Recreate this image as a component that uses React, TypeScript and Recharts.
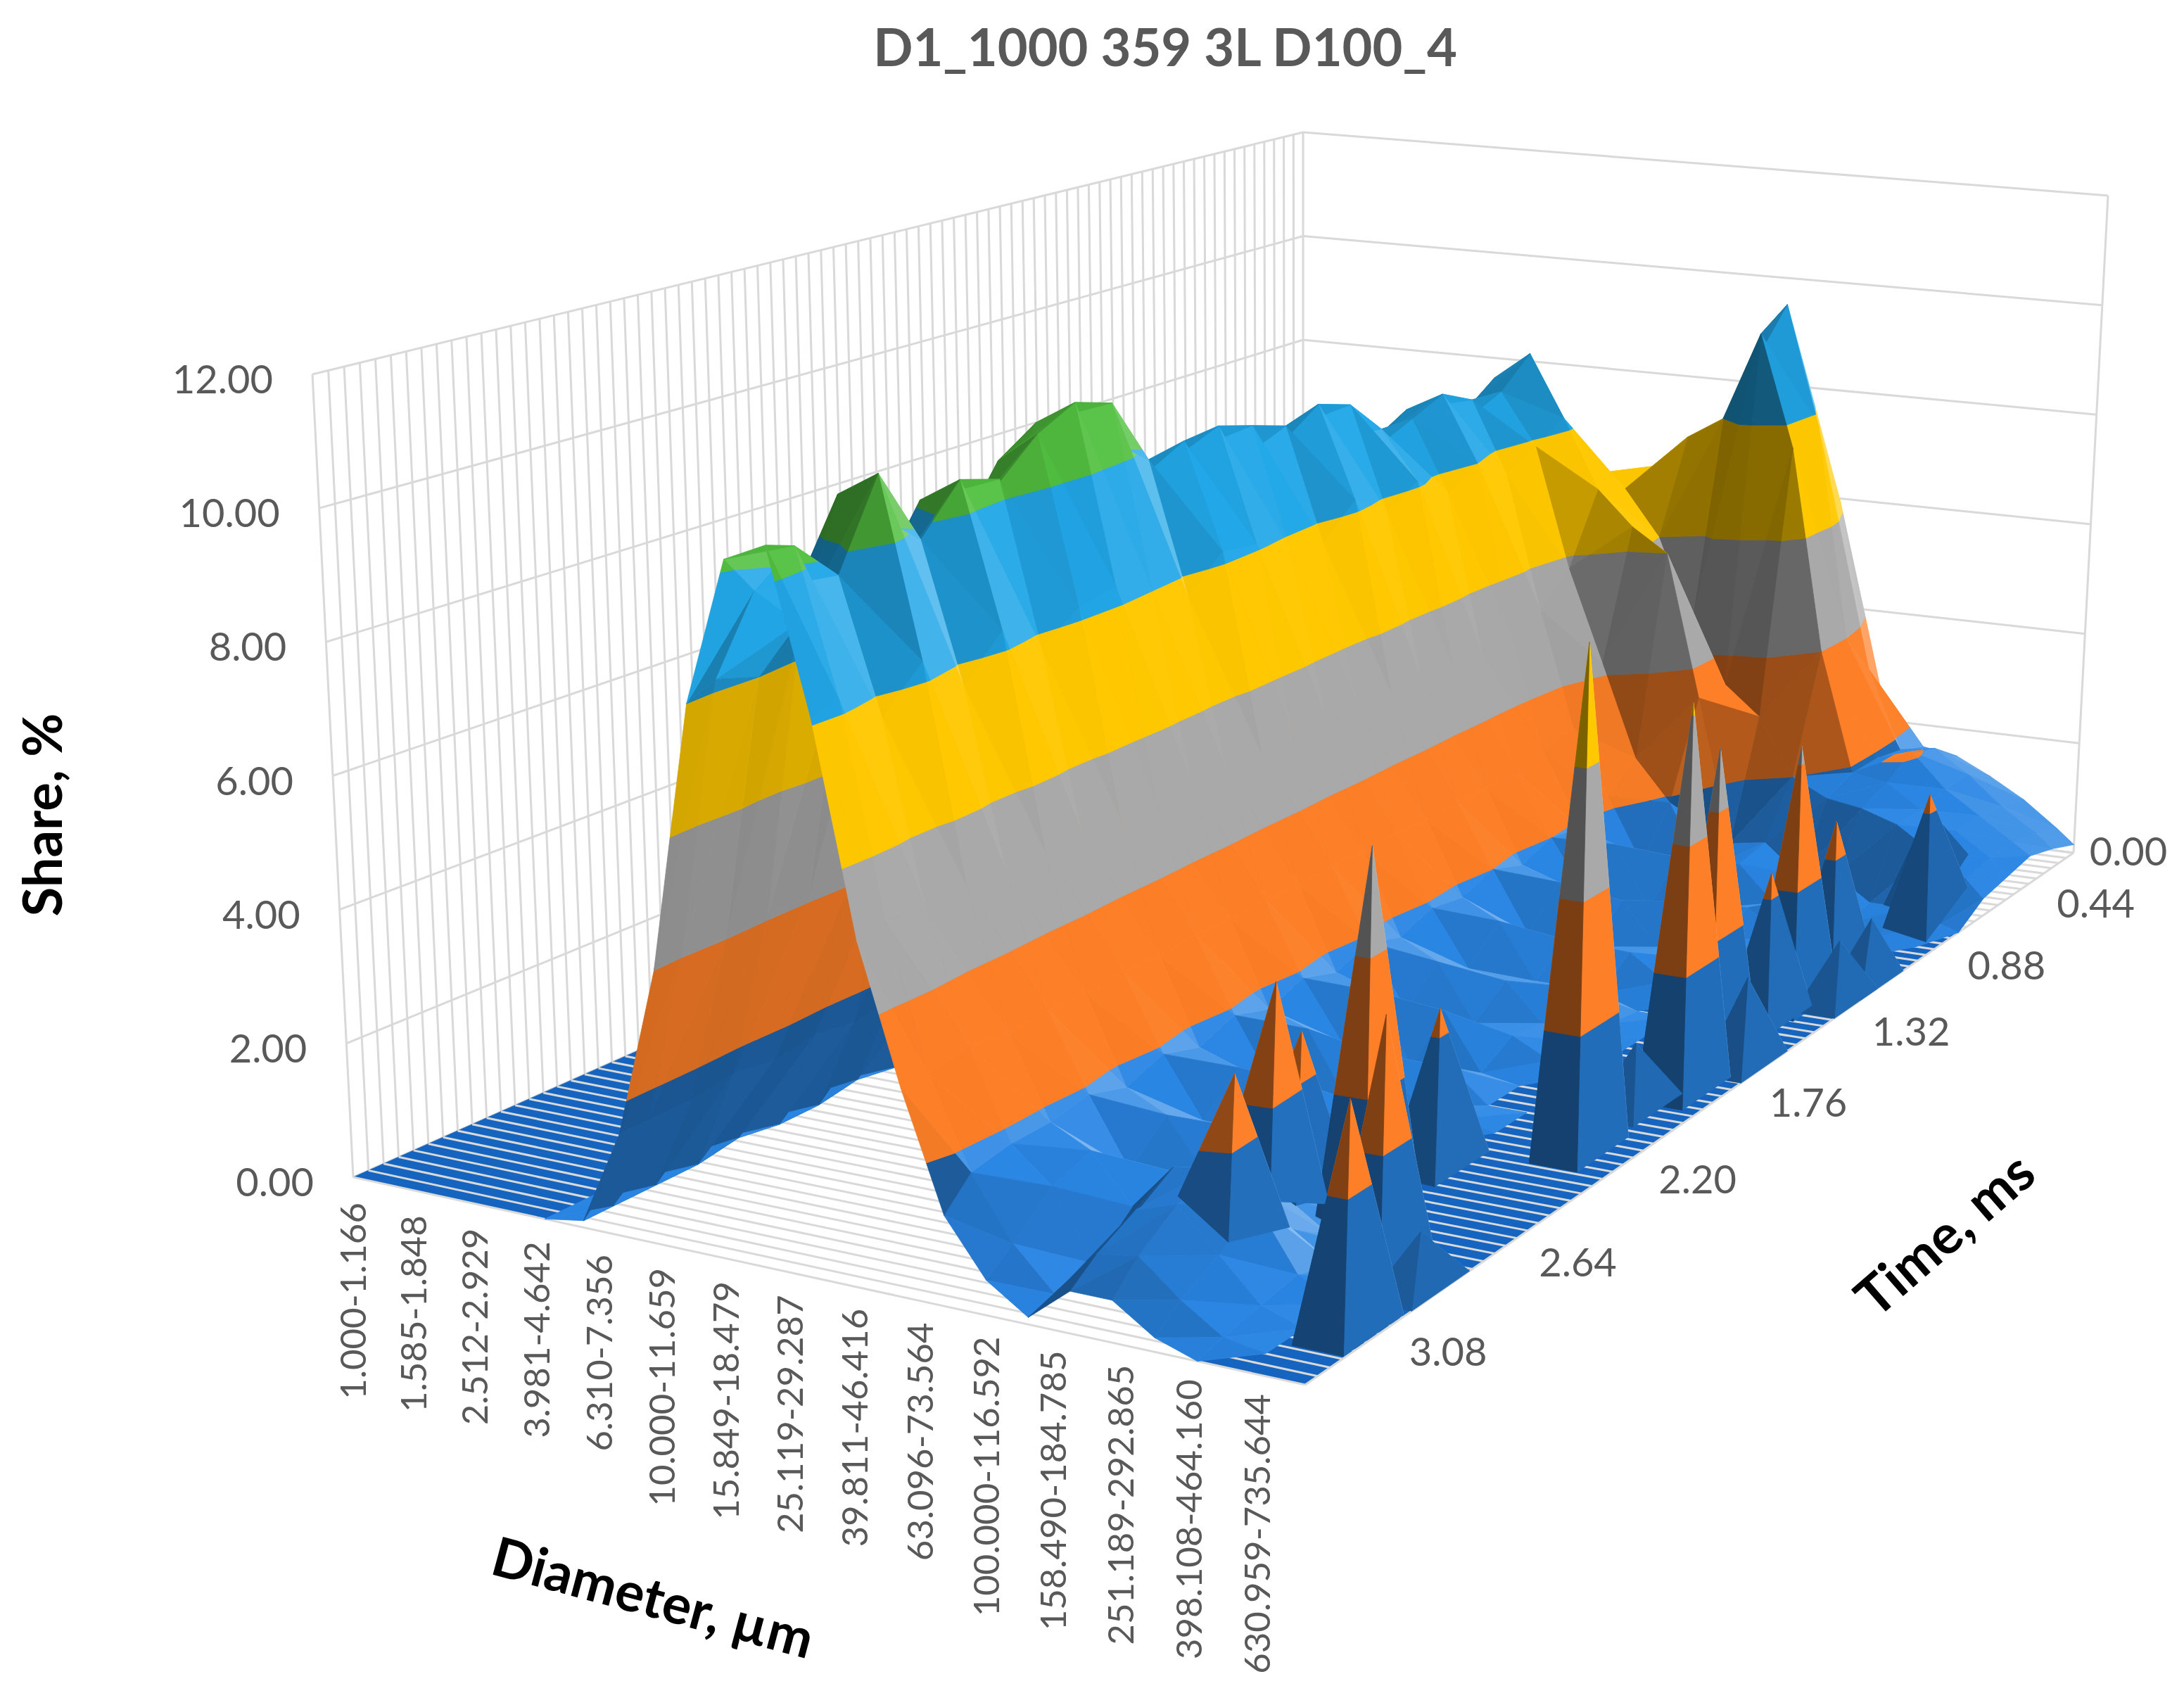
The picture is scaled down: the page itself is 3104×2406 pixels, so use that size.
import { ScatterChart, Scatter, XAxis, YAxis } from "recharts"

const WIDTH = 3104
const HEIGHT = 2406

const title = "D1_1000 359 3L D100_4"
const diameterLabels = [
  "1.000-1.166", "1.585-1.848", "2.512-2.929", "3.981-4.642", "6.310-7.356", "10.000-11.659",
  "15.849-18.479", "25.119-29.287", "39.811-46.416", "63.096-73.564", "100.000-116.592",
  "158.490-184.785", "251.189-292.865", "398.108-464.160", "630.959-735.644",
]
const diameterLabelCols = [0, 3.2, 6.4, 9.6, 12.8, 16, 19.2, 22.4, 25.6, 28.8, 32, 35.2, 38.4, 41.6, 44.8]
const timeLabels = ["0.00", "0.44", "0.88", "1.32", "1.76", "2.20", "2.64", "3.08"]
const shareTicks = [0, 2, 4, 6, 8, 10, 12]

// surface values. rows run from the front of the box to the back
const gridCols = [0, 10, 12, 14, 16, 18, 20, 22, 24, 26, 28, 30, 32, 34, 36, 38, 40, 42, 44, 46, 47]
const gridTimes = [
  3.2, 3.12, 3.0, 2.88, 2.76, 2.64, 2.52, 2.4, 2.28, 2.16, 2.04, 1.92, 1.8, 1.68,
  1.56, 1.44, 1.32, 1.2, 1.08, 0.96, 0.84, 0.72, 0.6, 0.48, 0.36, 0.24, 0.12, 0,
]
const shareRows = [
  [0, 0, 0.1, 1.5, 4.0, 8.0, 10.2, 10.5, 8.1, 5.0, 3.0, 1.3, 0.5, 0.1, 0.6, 0.6, 0.2, 0, 0, 0, 0],
  [0, 0, 0.1, 1.5, 4.1, 8.2, 9.6, 10.35, 8.2, 5.1, 3.0, 1.7, 0.8, 0.2, 0.9, 1.0, 0.5, 0.1, 0, 0, 0],
  [0, 0, 0.1, 1.5, 4.0, 8.0, 8.9, 9.7, 7.7, 5.0, 3.1, 1.8, 1.3, 0.3, 1.2, 1.4, 0.8, 0.2, 0, 0, 0],
  [0, 0, 0.1, 1.6, 4.1, 8.5, 10.6, 11.0, 8.3, 5.05, 3.0, 1.8, 1.5, 0.8, 1.5, 1.6, 1.2, 0.3, 0, 0, 0],
  [0, 0, 0.2, 1.5, 4.1, 7.9, 8.9, 9.8, 7.7, 5.0, 3.05, 1.9, 0.9, 1.0, 1.1, 1.0, 0.5, 0.1, 0, 0, 0],
  [0, 0, 0.1, 1.6, 4.0, 8.3, 10.1, 10.5, 8.3, 5.05, 3.0, 1.7, 1.4, 0.6, 0.8, 0.5, 0.1, 0, 0, 0, 0],
  [0, 0, 0.1, 1.5, 4.1, 8.0, 9.4, 10.3, 7.8, 5.0, 3.05, 1.9, 1.0, 1.0, 0.3, 0.2, 0, 0, 0, 0, 0],
  [0, 0, 0.2, 1.6, 4.1, 8.4, 10.3, 10.8, 8.2, 5.05, 3.0, 1.7, 1.5, 0.5, 0.6, 0.1, 0, 0, 0, 0, 0],
  [0, 0, 0.1, 1.6, 4.2, 8.6, 10.7, 11.1, 8.3, 5.0, 3.05, 1.9, 0.9, 1.0, 0.2, 0, 0, 0, 0, 0, 0],
  [0, 0, 0.1, 1.5, 4.1, 8.5, 10.5, 10.9, 8.0, 5.05, 3.0, 1.7, 1.5, 0.5, 0.4, 0, 0, 0, 0, 0, 0],
  [0, 0, 0.1, 1.6, 4.0, 7.9, 9.0, 9.8, 7.7, 5.0, 3.05, 1.9, 1.0, 0.9, 0.2, 0.1, 0, 0, 0, 0, 0],
  [0, 0, 0.2, 1.5, 4.2, 8.1, 9.2, 9.9, 8.2, 5.05, 3.0, 1.7, 1.5, 0.4, 0.5, 0, 0, 0, 0, 0, 0],
  [0, 0, 0.1, 1.6, 4.1, 8.2, 9.4, 9.95, 8.1, 5.0, 3.05, 1.9, 0.9, 1.0, 0.1, 0, 0, 0, 0, 0, 0],
  [0, 0, 0.1, 1.5, 4.0, 8.0, 8.8, 9.76, 7.8, 5.05, 3.0, 1.7, 1.4, 0.5, 0.4, 0.1, 0, 0, 0, 0, 0],
  [0, 0, 0.1, 1.6, 4.2, 7.9, 8.6, 9.56, 7.7, 5.0, 3.05, 1.9, 1.0, 0.9, 0.3, 0.1, 0, 0, 0, 0, 0],
  [0, 0, 0.2, 1.5, 4.1, 7.9, 9.2, 9.73, 8.2, 5.05, 3.0, 1.8, 1.5, 0.6, 0.6, 0.1, 0, 0, 0, 0, 0],
  [0, 0, 0.1, 1.6, 4.0, 8.0, 8.8, 9.53, 7.8, 5.0, 3.05, 2.0, 1.0, 1.0, 0.2, 0, 0, 0, 0, 0, 0],
  [0, 0, 0.1, 1.4, 3.9, 7.7, 8.1, 8.92, 8.1, 5.05, 3.0, 1.8, 1.6, 0.6, 0.6, 0.2, 0, 0, 0, 0, 0],
  [0, 0, 0.1, 1.5, 3.8, 7.6, 8.5, 8.9, 7.7, 5.0, 3.05, 2.0, 1.1, 1.1, 0.4, 0.3, 0.1, 0, 0, 0, 0],
  [0, 0, 0.1, 1.4, 4.0, 7.7, 8.8, 9.14, 8.0, 5.1, 3.1, 1.9, 1.7, 0.7, 0.9, 0.3, 0.2, 0.1, 0, 0, 0],
  [0, 0, 0.1, 1.3, 3.7, 7.6, 8.0, 8.85, 7.6, 5.3, 3.3, 2.2, 1.1, 1.3, 0.5, 0.6, 0.2, 0, 0, 0, 0],
  [0, 0, 0, 1.2, 3.5, 7.4, 8.4, 8.8, 7.9, 5.8, 4.2, 2.6, 1.9, 0.8, 1.0, 0.4, 0.6, 0.2, 0.1, 0, 0],
  [0, 0, 0, 1.1, 3.4, 7.4, 8.8, 9.3, 8.2, 7.0, 6.4, 6.0, 3.5, 1.0, 1.1, 0.6, 0.7, 0.3, 0.3, 0.1, 0],
  [0, 0, 0, 0.9, 3.0, 5.5, 7.5, 7.3, 7.0, 6.8, 6.0, 4.5, 3.5, 3.0, 2.0, 1.7, 1.6, 1.4, 1.0, 0.6, 0.3],
  [0, 0, 0, 0.7, 2.4, 4.0, 5.0, 6.0, 6.4, 7.0, 7.6, 8.0, 9.6, 7.6, 4.0, 1.9, 1.8, 1.4, 1.1, 0.7, 0.4],
  [0, 0, 0, 0.6, 1.8, 3.0, 4.0, 4.2, 4.5, 5.0, 5.5, 7.4, 9.95, 7.8, 4.0, 1.9, 2.1, 1.5, 1.1, 0.7, 0.5],
  [0, 0, 0, 0.3, 0.9, 1.5, 2.2, 2.5, 2.8, 3.1, 3.5, 4.8, 7.5, 6.2, 3.2, 1.8, 1.9, 1.5, 1.0, 0.6, 0.35],
  [0, 0, 0, 0.2, 0.5, 0.7, 0.8, 0.9, 1.0, 1.2, 1.5, 2.0, 3.5, 3.6, 1.8, 1.6, 1.5, 1.2, 0.85, 0.4, 0.15],
]

// the narrow spikes on the right of the ridge
const spikeTimes = [2.87, 2.64, 2.54, 2.52, 2.76, 2.97, 2.23, 2.05, 1.68, 1.48, 1.14, 1.24, 0.95, 0.59, 1.5, 1.09, 0.97, 0.5, 1.8, 2.75]
const spikeCols = [38.8, 37.4, 37.2, 40.3, 44.4, 45.7, 39.7, 44.4, 45, 44, 44.2, 44, 44, 45, 46, 46, 46.3, 44, 44, 46]
const spikeShares = [3.0, 3.7, 2.7, 5.6, 3.9, 3.3, 2.4, 7.9, 6.2, 5.0, 4.3, 2.4, 2.6, 2.3, 1.4, 1.0, 1.1, 1.8, 1.0, 0.8]

const bandColors = ["#2a86e4", "#fd7f27", "#a9a9a9", "#ffc800", "#22a7e8", "#52c040"]
const LAST_COL = 47
const MAX_TIME = 3.2
const FONT = "Lato, 'Open Sans', sans-serif"

// box corners in the picture: floor and the 12.00 level
const floorBox = [[502, 1673], [1855, 1968], [2947, 1212], [1852, 1073]]
const topBox = [[444, 532], [1864, 744], [2996, 278], [1852, 188]]
const boxDepth = [1 / 1141, 1 / 1224, 1 / 934, 1 / 885]

type V3 = { c: number; t: number; z: number }

function depthAt(u: number, v: number) {
  return (1 - u) * (1 - v) * boxDepth[0] + u * (1 - v) * boxDepth[1] + u * v * boxDepth[2] + (1 - u) * v * boxDepth[3]
}

function onBox(box: number[][], u: number, v: number) {
  const w = [(1 - u) * (1 - v) * boxDepth[0], u * (1 - v) * boxDepth[1], u * v * boxDepth[2], (1 - u) * v * boxDepth[3]]
  const sum = w[0] + w[1] + w[2] + w[3]
  return [
    (w[0] * box[0][0] + w[1] * box[1][0] + w[2] * box[2][0] + w[3] * box[3][0]) / sum,
    (w[0] * box[0][1] + w[1] * box[1][1] + w[2] * box[2][1] + w[3] * box[3][1]) / sum,
  ]
}

function project(c: number, t: number, z: number) {
  const u = c / LAST_COL
  const v = 1 - t / MAX_TIME
  const a = onBox(floorBox, u, v)
  const b = onBox(topBox, u, v)
  return { x: a[0] + ((b[0] - a[0]) * z) / 12, y: a[1] + ((b[1] - a[1]) * z) / 12 }
}

function shade(hex: string, b: number) {
  const n = parseInt(hex.slice(1), 16)
  const ch = [(n >> 16) & 255, (n >> 8) & 255, n & 255]
  const out = ch.map((v) => (b <= 1 ? v * b : v + (255 - v) * Math.min(1, (b - 1) * 1.6)))
  return `rgb(${out.map((v) => Math.round(v)).join(",")})`
}

function normalOf(a: V3, b: V3, c: V3) {
  const k = 1 / 0.08 // time runs in half-row units for the normal
  const e1 = [b.c - a.c, (a.t - b.t) * k, b.z - a.z]
  const e2 = [c.c - a.c, (a.t - c.t) * k, c.z - a.z]
  let nx = e1[1] * e2[2] - e1[2] * e2[1]
  let ny = e1[2] * e2[0] - e1[0] * e2[2]
  let nz = e1[0] * e2[1] - e1[1] * e2[0]
  if (nz < 0) {
    nx = -nx
    ny = -ny
    nz = -nz
  }
  const len = Math.sqrt(nx * nx + ny * ny + nz * nz) || 1
  return { nx: nx / len, ny: ny / len }
}

function clipBand(tri: V3[], lo: number, hi: number) {
  let poly = tri
  for (const [level, keepAbove] of [[lo, true], [hi, false]] as [number, boolean][]) {
    const next: V3[] = []
    poly.forEach((p, i) => {
      const q = poly[(i + 1) % poly.length]
      const pIn = keepAbove ? p.z >= level : p.z <= level
      const qIn = keepAbove ? q.z >= level : q.z <= level
      if (pIn) next.push(p)
      if (pIn !== qIn) {
        const f = (level - p.z) / (q.z - p.z)
        next.push({ c: p.c + (q.c - p.c) * f, t: p.t + (q.t - p.t) * f, z: level })
      }
    })
    poly = next
    if (!poly.length) break
  }
  return poly
}

function surfaceAt(c: number, t: number) {
  let i = 0
  while (i < gridCols.length - 2 && gridCols[i + 1] < c) i++
  let r = 0
  while (r < gridTimes.length - 2 && gridTimes[r + 1] > t) r++
  const fc = (c - gridCols[i]) / (gridCols[i + 1] - gridCols[i])
  const fr = (gridTimes[r] - t) / (gridTimes[r] - gridTimes[r + 1])
  const a = shareRows[r][i] * (1 - fc) + shareRows[r][i + 1] * fc
  const b = shareRows[r + 1][i] * (1 - fc) + shareRows[r + 1][i + 1] * fc
  return a * (1 - fr) + b * fr
}

type Piece = { x: number; y: number; pts: { x: number; y: number }[]; fill: string }

function lowBandLight(b: number, nx: number, ny: number) {
  if (nx < -0.1) return b * 0.8 // under side of the left slope
  if (Math.abs(nx) > 0.6) return b * 0.8
  if (Math.abs(ny) < 0.45) return 1 + (b - 0.9) * 1.4
  return b
}

// the long flank stays nearly flat in colour, only strong slopes towards the front get dark
function midBandLight(b: number, nx: number, ny: number) {
  if (Math.abs(ny) >= 0.45) return b
  if (nx < -0.3) return 0.84 + ny * 0.12
  return 1 + ny * 0.12
}

function toPieces(tri: V3[], out: Piece[]) {
  const { nx, ny } = normalOf(tri[0], tri[1], tri[2])
  const b = 0.9 + 0.12 * nx + 0.42 * ny
  bandColors.forEach((color, band) => {
    const poly = clipBand(tri, band * 2, band * 2 + 2)
    if (poly.length < 3) return
    const pts = poly.map((p) => project(p.c, p.t, p.z))
    let light = b
    if (band === 0) light = lowBandLight(b, nx, ny)
    else if (band < 4) light = midBandLight(b, nx, ny)
    out.push({ x: pts[0].x, y: pts[0].y, pts, fill: shade(color, light) })
  })
}

function buildMesh() {
  const flat: Piece[] = []
  const tris: { tri: V3[]; key: number }[] = []
  const flatFill = "#1565c0"
  const add = (tri: V3[], bias = 0) => {
    if (tri.every((p) => p.z === 0)) {
      const pts = tri.map((p) => project(p.c, p.t, 0))
      flat.push({ x: pts[0].x, y: pts[0].y, pts, fill: flatFill })
      return
    }
    const c = (tri[0].c + tri[1].c + tri[2].c) / 3 / LAST_COL
    const t = (tri[0].t + tri[1].t + tri[2].t) / 3
    tris.push({ tri, key: depthAt(c, 1 - t / MAX_TIME) - bias })
  }
  for (let r = 0; r < gridTimes.length - 1; r++) {
    for (let i = 0; i < gridCols.length - 1; i++) {
      const p = (rr: number, ii: number) => ({ c: gridCols[ii], t: gridTimes[rr], z: shareRows[rr][ii] })
      add([p(r, i), p(r, i + 1), p(r + 1, i + 1)])
      add([p(r, i), p(r + 1, i + 1), p(r + 1, i)])
    }
  }
  spikeTimes.forEach((t, s) => {
    const c = spikeCols[s]
    const apex = { c, t, z: spikeShares[s] }
    const base = [
      [c - 1.2, t + 0.1],
      [c + 1.2, t + 0.1],
      [c + 1.2, t - 0.1],
      [c - 1.2, t - 0.1],
    ].map(([bc, bt]) => {
      const cc = Math.min(bc, LAST_COL)
      return { c: cc, t: bt, z: surfaceAt(cc, bt) }
    })
    base.forEach((b, i) => add([apex, b, base[(i + 1) % 4]], 0.00002))
  })
  tris.sort((a, b) => b.key - a.key)
  const pieces: Piece[] = []
  tris.forEach((t) => toPieces(t.tri, pieces))
  return { flat, pieces }
}

type Seg = { x: number; y: number; dx: number; dy: number }

function seg(a: { x: number; y: number }, b: { x: number; y: number }): Seg {
  return { x: a.x, y: a.y, dx: b.x - a.x, dy: b.y - a.y }
}

function buildWalls() {
  const out: Seg[] = []
  shareTicks.forEach((z) => {
    out.push(seg(project(0, MAX_TIME, z), project(0, 0, z)))
    out.push(seg(project(0, 0, z), project(LAST_COL, 0, z)))
  })
  for (let k = 0; k <= 80; k++) {
    const t = k * 0.04
    out.push(seg(project(0, t, 0), project(0, t, 12)))
  }
  out.push(seg(project(LAST_COL, 0, 0), project(LAST_COL, 0, 12)))
  return out
}

function buildFloor() {
  const out: Seg[] = []
  for (let k = 0; k <= 80; k++) {
    const t = k * 0.04
    out.push(seg(project(0, t, 0), project(LAST_COL, t, 0)))
  }
  out.push(seg(project(LAST_COL, 0, 0), project(LAST_COL, MAX_TIME, 0)))
  return out
}

type Label = { x: number; y: number; text: string; size: number; anchor: string; rotate: number; weight: number; fill: string }

function buildLabels() {
  const out: Label[] = []
  const grey = "#595959"
  out.push({ x: 1656, y: 94, text: title, size: 74, anchor: "middle", rotate: 0, weight: 700, fill: grey })
  shareTicks.forEach((z) => {
    const p = project(0, MAX_TIME, z)
    out.push({ x: p.x - 56, y: p.y + 27, text: z.toFixed(2), size: 56, anchor: "end", rotate: 0, weight: 400, fill: grey })
  })
  diameterLabels.forEach((text, i) => {
    const p = project(diameterLabelCols[i], MAX_TIME, 0)
    out.push({ x: p.x + 18, y: p.y + 36 - i * 0.6, text, size: 51, anchor: "end", rotate: -90, weight: 400, fill: grey })
  })
  timeLabels.forEach((text, i) => {
    const p = project(LAST_COL, i * 0.44, 0)
    out.push({ x: p.x + (i === 0 ? 78 : 150), y: p.y + (i === 0 ? 18 : 10), text, size: 56, anchor: "middle", rotate: 0, weight: 400, fill: grey })
  })
  out.push({ x: 88, y: 1158, text: "Share, %", size: 76, anchor: "middle", rotate: -90, weight: 700, fill: "#000" })
  out.push({ x: 921, y: 2297, text: "Diameter, µm", size: 77, anchor: "middle", rotate: 15, weight: 700, fill: "#000" })
  out.push({ x: 2782, y: 1775, text: "Time, ms", size: 77, anchor: "middle", rotate: -41, weight: 700, fill: "#000" })
  return out
}

const mesh = buildMesh()
const wallLines = buildWalls()
const floorLines = buildFloor()
const labels = buildLabels()

function PolyShape(props: any) {
  const { cx, cy, payload } = props
  const d = payload.pts.map((p: any) => `${cx + p.x - payload.x},${cy + p.y - payload.y}`).join(" ")
  return <polygon points={d} fill={payload.fill} stroke={payload.fill} strokeWidth={0.8} strokeLinejoin="round" />
}

function LineShape(props: any) {
  const { cx, cy, payload } = props
  return <line x1={cx} y1={cy} x2={cx + payload.dx} y2={cy + payload.dy} stroke="#d9d9d9" strokeWidth={3} />
}

function TextShape(props: any) {
  const { cx, cy, payload } = props
  return (
    <text
      x={cx}
      y={cy}
      fontFamily={FONT}
      fontSize={payload.size}
      fontWeight={payload.weight}
      fill={payload.fill}
      textAnchor={payload.anchor}
      transform={payload.rotate ? `rotate(${payload.rotate} ${cx} ${cy})` : undefined}
    >
      {payload.text}
    </text>
  )
}

export default function App() {
  return (
    <div style={{ position: "absolute", left: 0, top: 0, width: WIDTH, height: HEIGHT, background: "#fff" }}>
      <ScatterChart width={WIDTH} height={HEIGHT} margin={{ top: 0, right: 0, bottom: 0, left: 0 }}>
        <XAxis type="number" dataKey="x" domain={[0, WIDTH]} hide />
        <YAxis type="number" dataKey="y" domain={[0, HEIGHT]} reversed hide />
        <Scatter data={wallLines} shape={LineShape} isAnimationActive={false} />
        <Scatter data={mesh.flat} shape={PolyShape} isAnimationActive={false} />
        <Scatter data={floorLines} shape={LineShape} isAnimationActive={false} />
        <Scatter data={mesh.pieces} shape={PolyShape} isAnimationActive={false} />
        <Scatter data={labels} shape={TextShape} isAnimationActive={false} />
      </ScatterChart>
    </div>
  )
}
